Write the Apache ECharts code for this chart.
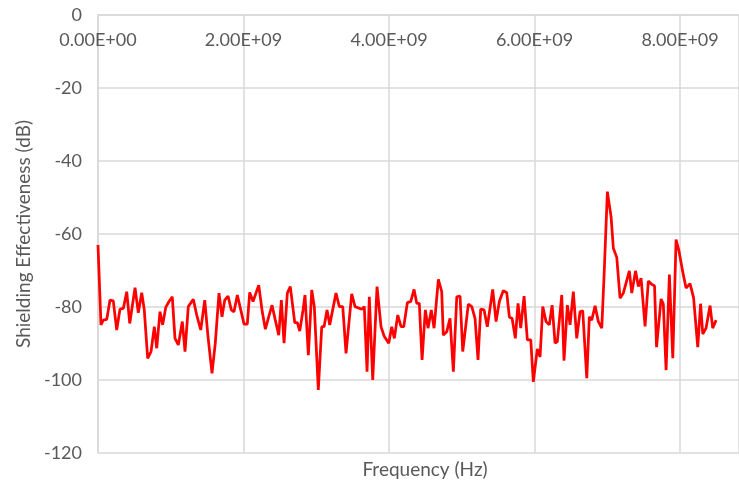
<!DOCTYPE html>
<html>
<head>
<meta charset="utf-8">
<script src="https://cdn.jsdelivr.net/npm/echarts@6/dist/echarts.min.js"></script>
<style>
html,body{margin:0;padding:0;background:#fff;}
#chart{width:739px;height:485px;}
</style>
</head>
<body>
<div id="chart"></div>
<script>
// Frequency in GHz (converted to Hz below) and shielding effectiveness in dB
var freqGHz = [
0.000,0.041,0.073,0.120,0.165,0.210,0.257,0.302,0.348,0.395,0.436,0.509,0.554,0.601,0.636,0.683,0.729,0.774,0.807,0.852,
0.889,0.931,0.976,1.021,1.058,1.104,1.159,1.196,1.241,1.310,1.357,1.412,1.467,1.512,1.567,1.612,1.663,1.704,1.742,1.787,
1.832,1.869,1.915,1.962,2.007,2.052,2.085,2.131,2.209,2.254,2.300,2.346,2.392,2.437,2.484,2.520,2.557,2.602,2.643,2.704,
2.740,2.773,2.818,2.845,2.891,2.938,2.973,3.028,3.075,3.107,3.148,3.185,3.271,3.317,3.364,3.409,3.487,3.533,3.625,3.660,
3.698,3.729,3.776,3.835,3.890,3.935,3.996,4.037,4.073,4.120,4.165,4.202,4.252,4.298,4.344,4.381,4.416,4.454,4.499,4.536,
4.581,4.619,4.678,4.724,4.746,4.793,4.838,4.884,4.931,4.976,5.013,5.090,5.137,5.182,5.223,5.260,5.306,5.351,5.425,5.471,
5.516,5.571,5.618,5.654,5.691,5.736,5.773,5.810,5.856,5.901,5.948,5.983,6.038,6.076,6.113,6.158,6.203,6.241,6.282,6.313,
6.374,6.405,6.451,6.488,6.533,6.580,6.625,6.662,6.718,6.753,6.786,6.832,6.877,6.924,6.955,7.001,7.052,7.083,7.130,7.175,
7.220,7.303,7.336,7.388,7.427,7.464,7.519,7.564,7.605,7.649,7.677,7.739,7.770,7.808,7.853,7.900,7.945,7.986,8.034,8.082,
8.137,8.186,8.243,8.282,8.312,8.357,8.412,8.449,8.495
];
var seDb = [
-63.0,-84.9,-83.6,-83.4,-78.1,-78.3,-86.3,-80.6,-80.4,-75.8,-84.5,-74.7,-81.6,-76.1,-80.8,-94.1,-92.2,-85.4,-91.3,-81.3,
-84.9,-80.1,-78.5,-77.2,-88.6,-90.4,-84.0,-92.2,-79.9,-77.9,-82.2,-86.3,-78.1,-88.1,-98.2,-89.9,-76.2,-82.7,-78.1,-77.0,
-80.8,-81.3,-76.7,-80.8,-84.7,-84.7,-76.0,-78.5,-74.0,-80.8,-86.1,-82.7,-79.5,-83.6,-87.7,-78.1,-89.9,-76.2,-74.4,-84.3,
-84.3,-86.6,-80.8,-76.7,-93.2,-75.3,-79.9,-102.7,-85.4,-85.4,-80.8,-84.9,-76.2,-79.9,-79.9,-92.7,-76.4,-79.9,-80.6,-79.9,
-97.7,-77.2,-100.0,-74.4,-85.4,-88.1,-89.9,-85.4,-88.6,-82.2,-85.4,-85.4,-78.8,-78.5,-75.2,-79.0,-79.0,-94.5,-80.8,-85.8,
-80.8,-85.8,-72.4,-75.8,-87.7,-86.8,-83.1,-97.7,-77.2,-77.0,-92.2,-79.2,-79.9,-83.1,-94.5,-80.6,-80.8,-85.4,-75.2,-84.0,
-78.5,-75.5,-76.1,-82.8,-83.1,-88.6,-79.0,-85.8,-77.0,-89.0,-89.0,-100.5,-91.5,-93.7,-79.9,-84.0,-84.9,-79.5,-89.9,-89.5,
-76.7,-94.7,-79.5,-84.9,-75.8,-88.6,-81.3,-81.0,-99.5,-82.7,-83.6,-79.7,-84.0,-85.8,-71.7,-48.4,-55.3,-63.9,-66.4,-77.6,
-76.2,-70.1,-76.2,-70.1,-74.4,-72.1,-85.3,-72.9,-73.7,-74.2,-91.0,-77.8,-79.2,-97.3,-71.1,-94.0,-61.5,-64.7,-70.1,-74.8,
-73.6,-77.5,-91.0,-79.1,-87.4,-85.8,-79.6,-85.8,-83.6
];
var xTickStepHz = 2e9;
var xMaxHz = 8.81e9;
var yMin = -120, yMax = 0, yStep = 20;
var xTitle = 'Frequency (Hz)';
var yTitle = 'Shielding Effectiveness (dB)';

var points = freqGHz.map(function (f, i) { return [f * 1e9, seDb[i]]; });

function sci(v) {
  if (v === 0) return '0.00E+00';
  var e = Math.floor(Math.log10(Math.abs(v)));
  var m = v / Math.pow(10, e);
  return m.toFixed(2) + 'E+' + (e < 10 ? '0' + e : e);
}

var FONT = 'Lato';
var chart = echarts.init(document.getElementById('chart'), null, {renderer: 'canvas'});
chart.setOption({
  animation: false,
  backgroundColor: '#ffffff',
  grid: {left: 98, right: 0, top: 15, bottom: 32, containLabel: false},
  xAxis: {
    type: 'value',
    position: 'top',
    min: 0,
    max: xMaxHz,
    interval: xTickStepHz,
    axisLine: {show: true, lineStyle: {color: '#d9d9d9', width: 1.5}},
    axisTick: {show: false},
    axisLabel: {
      inside: true, margin: 16, showMaxLabel: false,
      color: '#595959', fontSize: 18, fontFamily: FONT,
      formatter: sci
    },
    splitLine: {show: true, lineStyle: {color: '#d9d9d9', width: 1.5}}
  },
  yAxis: {
    type: 'value',
    min: yMin, max: yMax, interval: yStep,
    axisLine: {show: true, lineStyle: {color: '#d9d9d9', width: 1.5}},
    axisTick: {show: false},
    axisLabel: {color: '#595959', fontSize: 18, fontFamily: FONT, margin: 16},
    splitLine: {show: true, lineStyle: {color: '#d9d9d9', width: 1.5}},
    name: yTitle,
    nameLocation: 'middle',
    nameGap: 64,
    nameTextStyle: {color: '#595959', fontSize: 19, fontFamily: FONT}
  },
  graphic: [{
    type: 'text',
    x: 425,
    y: 470,
    style: {text: xTitle, fill: '#595959', font: '19px ' + FONT, align: 'center', verticalAlign: 'middle'}
  }],
  series: [{
    type: 'line',
    data: points,
    showSymbol: false,
    symbol: 'none',
    lineStyle: {color: '#ff0000', width: 2.75},
    itemStyle: {color: '#ff0000'}
  }]
});
</script>
</body>
</html>
